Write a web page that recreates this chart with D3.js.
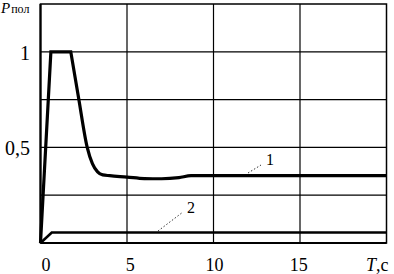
<!DOCTYPE html>
<html><head><meta charset="utf-8">
<script src="https://cdn.jsdelivr.net/npm/d3@7"></script>
<style>body{margin:0;background:#fff}svg{display:block}</style>
</head><body><svg id="c" width="394" height="274" font-family="'Liberation Serif','DejaVu Serif','Times New Roman',serif"></svg>
<script>
const xTicks=[0,5,10,15];
const yGrid=[0.25,0.5,0.75,1];
const yTickLabels=[{v:0.5,t:"0,5"},{v:1,t:"1"}];
const riseT=[0,0.6,1.75];
const riseP=[0,1,1];
const fallT=[1.75,2.2,2.7,3.0,3.3,3.6,4.0,5,6,7,8,8.7,10,20];
const fallP=[1,0.76,0.5,0.415,0.372,0.356,0.352,0.345,0.337,0.336,0.342,0.352,0.352,0.352];
const curve2T=[0,0.65,20];
const curve2P=[0,0.055,0.055];

const svg=d3.select("#c");
const x=d3.scaleLinear().domain([0,20]).range([40.5,386.5]);
const y=d3.scaleLinear().domain([0,1.25]).range([243,4]);

svg.append("g").selectAll("line").data(yGrid).join("line")
 .attr("x1",x(0)).attr("x2",x(20)).attr("y1",d=>y(d)).attr("y2",d=>y(d))
 .attr("stroke","#000").attr("stroke-width",1.2);
svg.append("g").selectAll("line").data([5,10,15]).join("line")
 .attr("x1",d=>x(d)).attr("x2",d=>x(d)).attr("y1",y(0)).attr("y2",y(1.25))
 .attr("stroke","#000").attr("stroke-width",1.2);
svg.append("rect").attr("x",x(0)).attr("y",y(1.25)).attr("width",x(20)-x(0)).attr("height",y(0)-y(1.25))
 .attr("fill","none").attr("stroke","#000").attr("stroke-width",1.5);
svg.append("line").attr("x1",x(0)).attr("x2",x(0)).attr("y1",y(0)).attr("y2",y(1.25)).attr("stroke","#000").attr("stroke-width",2.2);
svg.append("line").attr("x1",x(0)).attr("x2",x(20)).attr("y1",y(0)).attr("y2",y(0)).attr("stroke","#000").attr("stroke-width",2.2);

const lin=d3.line().x(d=>x(d[0])).y(d=>y(d[1]));
const smooth=d3.line().x(d=>x(d[0])).y(d=>y(d[1])).curve(d3.curveMonotoneX);
const rise=riseT.map((t,i)=>[t,riseP[i]]);
const fall=fallT.map((t,i)=>[t,fallP[i]]);
svg.append("path").attr("d",lin(rise)+smooth(fall).replace(/^M/,"L"))
 .attr("fill","none").attr("stroke","#000").attr("stroke-width",3.2).attr("stroke-linejoin","miter");
svg.append("path").datum(curve2T.map((t,i)=>[t,curve2P[i]]))
 .attr("d",lin).attr("fill","none").attr("stroke","#000").attr("stroke-width",2.6);

svg.append("g").selectAll("text").data(xTicks).join("text")
 .attr("x",d=>x(d)+5.5-d*0.45).attr("y",271).attr("text-anchor","middle").attr("font-size",18).text(d=>d);
const tl=svg.append("text").attr("x",366).attr("y",271).attr("font-size",18);
tl.append("tspan").attr("font-style","italic").text("T");
tl.append("tspan").text(",c");
svg.append("g").selectAll("text").data(yTickLabels).join("text")
 .attr("x",30).attr("y",d=>y(d.v)+8).attr("text-anchor","end").attr("font-size",20).text(d=>d.t);
const pl=svg.append("text").attr("x",1).attr("y",13).attr("font-size",15);
pl.append("tspan").attr("font-style","italic").text("P");
pl.append("tspan").attr("font-size",12).attr("dx",1).text("пол");

svg.append("line").attr("x1",248).attr("y1",173).attr("x2",261).attr("y2",165).attr("stroke","#000").attr("stroke-width",0.8).attr("stroke-dasharray","1.5,2");
svg.append("text").attr("x",266).attr("y",165).attr("font-size",16).text("1");
svg.append("line").attr("x1",158).attr("y1",231).attr("x2",183).attr("y2",212).attr("stroke","#000").attr("stroke-width",0.8).attr("stroke-dasharray","1.5,2");
svg.append("text").attr("x",187).attr("y",213).attr("font-size",16).text("2");
</script></body></html>
